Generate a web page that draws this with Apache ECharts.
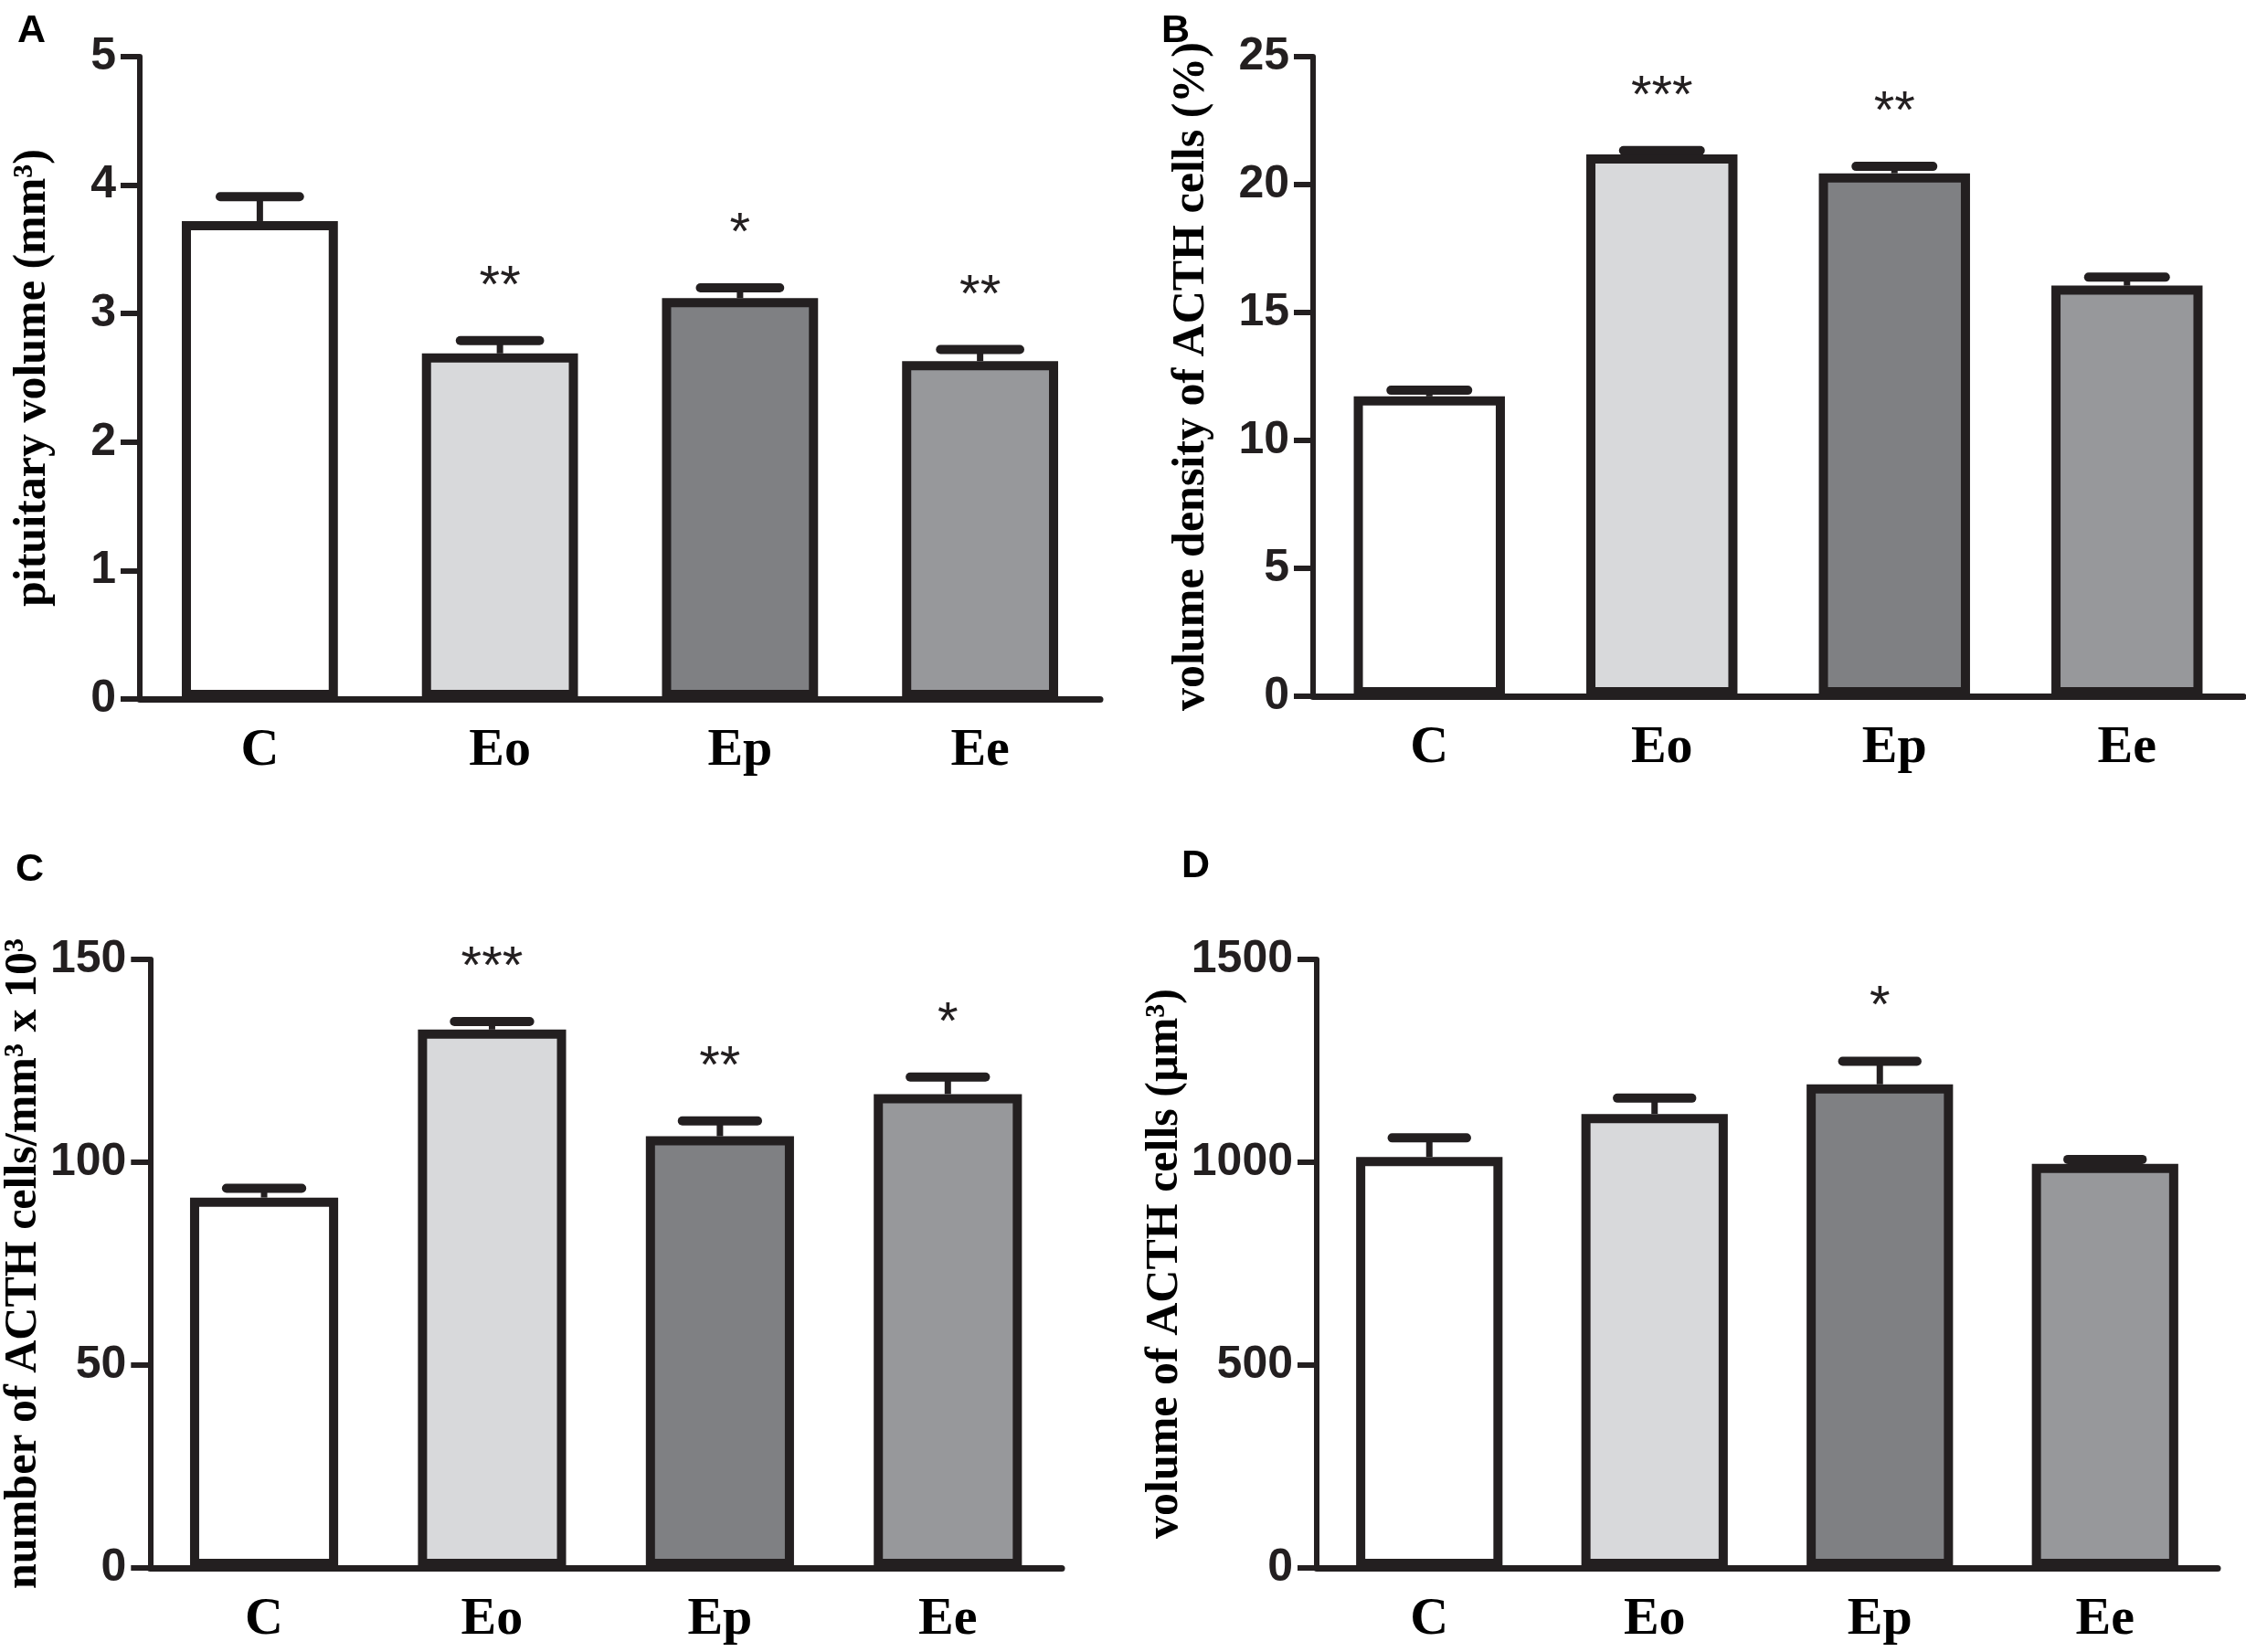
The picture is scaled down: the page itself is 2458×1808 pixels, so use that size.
<!DOCTYPE html>
<html>
<head>
<meta charset="utf-8">
<script src="https://cdn.jsdelivr.net/npm/echarts@6.0.0/dist/echarts.min.js"></script>
<style>
html, body { margin: 0; padding: 0; background: #fff; }
#chart { width: 2458px; height: 1808px; }
</style>
</head>
<body>
<div id="chart"></div>
<script>
// groups on every x axis
var groups = ['C', 'Eo', 'Ep', 'Ee'];

// A - pituitary volume (mm3)
var pituitaryMean = [3.72, 2.69, 3.12, 2.63];
var pituitarySem = [0.19, 0.10, 0.08, 0.09];
var pituitaryStars = ['', '**', '*', '**'];

// B - volume density of ACTH cells (%)
var densityMean = [11.72, 21.18, 20.44, 16.05];
var densitySem = [0.24, 0.15, 0.27, 0.33];
var densityStars = ['', '***', '**', ''];

// C - number of ACTH cells/mm3 x 10^3
var numberMean = [91.3, 132.7, 106.4, 116.8];
var numberSem = [2.3, 2.0, 3.8, 4.2];
var numberStars = ['', '***', '**', '*'];

// D - volume of ACTH cells (um3)
var cellVolMean = [1013, 1119, 1192, 996];
var cellVolSem = [47, 39, 57, 11];
var cellVolStars = ['', '', '*', ''];

var ink = '#231f20';
var fills = ['#ffffff', '#d8d9db', '#7f8083', '#97989b'];

var chart = echarts.init(document.getElementById('chart'));

var panels = [
	{ letter: 'A', mean: pituitaryMean, sem: pituitarySem, stars: pituitaryStars,
	  name: 'pituitary volume (mm\u00b3)', max: 5, interval: 1, nameGap: 92,
	  grid: { left: 153, top: 62, width: 1051, height: 703 }, title: [14, 8] },
	{ letter: 'B', mean: densityMean, sem: densitySem, stars: densityStars,
	  name: 'volume density of ACTH cells (%)', max: 25, interval: 5, nameGap: 108,
	  grid: { left: 1437, top: 62, width: 1018, height: 700 }, title: [1266, 8] },
	{ letter: 'C', mean: numberMean, sem: numberSem, stars: numberStars,
	  name: 'number of ACTH cells/mm\u00b3 x 10\u00b3', max: 150, interval: 50, nameGap: 97,
	  grid: { left: 155, top: 1050, width: 1007, height: 666 }, title: [12, 926] },
	{ letter: 'D', mean: cellVolMean, sem: cellVolSem, stars: cellVolStars,
	  name: 'volume of ACTH cells (\u00b5m\u00b3)', max: 1500, interval: 500, nameGap: 116,
	  grid: { left: 1441, top: 1050, width: 986, height: 666 }, title: [1288, 922] }
];

function errorItem(stars) {
	return function (params, api) {
		var x = api.value(0);
		var p0 = api.coord([x, api.value(1)]);
		var p1 = api.coord([x, api.value(2)]);
		var half = api.size([1, 0])[0] * 0.165;
		var kids = [
			{ type: 'line', shape: { x1: p0[0], y1: p0[1], x2: p1[0], y2: p1[1] },
			  style: { stroke: ink, lineWidth: 7 } },
			{ type: 'line', shape: { x1: p1[0] - half, y1: p1[1], x2: p1[0] + half, y2: p1[1] },
			  style: { stroke: ink, lineWidth: 10, lineCap: 'round' } }
		];
		if (stars[params.dataIndex]) {
			kids.push({ type: 'text', style: {
				text: stars[params.dataIndex], x: p1[0], y: p1[1] - 58,
				align: 'center', verticalAlign: 'middle',
				fontFamily: 'Liberation Sans', fontSize: 58, fill: ink } });
		}
		return { type: 'group', children: kids };
	};
}

var option = { animation: false, backgroundColor: '#fff',
	title: [], grid: [], xAxis: [], yAxis: [], series: [] };

panels.forEach(function (p, i) {
	option.title.push({ text: p.letter, left: p.title[0], top: p.title[1],
		textStyle: { fontFamily: 'Liberation Sans', fontWeight: 'bold', fontSize: 43, color: '#000' } });
	option.grid.push(p.grid);
	option.xAxis.push({
		type: 'category', gridIndex: i, data: groups,
		axisLine: { lineStyle: { color: ink, width: 7 } },
		axisTick: { alignWithLabel: true, length: 22, lineStyle: { color: ink, width: 6 } },
		axisLabel: { margin: 28, fontFamily: 'Liberation Serif', fontWeight: 'bold', fontSize: 58, color: '#000' }
	});
	option.yAxis.push({
		type: 'value', gridIndex: i, min: 0, max: p.max, interval: p.interval,
		name: p.name, nameLocation: 'middle', nameGap: p.nameGap,
		nameTextStyle: { fontFamily: 'Liberation Serif', fontWeight: 'bold', fontSize: 50, color: '#000' },
		splitLine: { show: false },
		axisLine: { show: true, lineStyle: { color: ink, width: 6 } },
		axisTick: { show: true, length: 21, lineStyle: { color: ink, width: 6 } },
		axisLabel: { margin: 26, fontFamily: 'Liberation Sans', fontWeight: 'bold', fontSize: 50, color: ink,
			formatter: function (v) { return String(v); } }
	});
	option.series.push({
		type: 'bar', xAxisIndex: i, yAxisIndex: i, barWidth: '65%',
		data: p.mean.map(function (v, k) {
			return { value: v, itemStyle: { color: fills[k], borderColor: ink, borderWidth: 10 } };
		})
	});
	option.series.push({
		type: 'custom', xAxisIndex: i, yAxisIndex: i, z: 3,
		renderItem: errorItem(p.stars),
		data: p.mean.map(function (v, k) { return [k, v, v + p.sem[k]]; })
	});
});

chart.setOption(option);
</script>
</body>
</html>
